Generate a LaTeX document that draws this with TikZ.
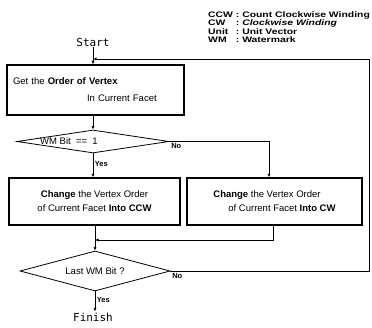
\documentclass[tikz,border=0pt]{standalone}
\usepackage{fontspec}
\setmainfont{Liberation Sans}
\newfontfamily\legendfont[FakeStretch=1.3]{Liberation Sans}
\newfontfamily\termfont{DejaVu Sans Mono}
\usetikzlibrary{arrows.meta,shapes.geometric}

\begin{document}
\begin{tikzpicture}[x=1pt,y=-1pt,>={Latex[length=3.5pt,width=3pt]},
  font=\fontsize{9.5}{11}\selectfont,
  stepbox/.style={draw,line width=1.2pt,inner sep=0pt},
  test/.style={draw,diamond,line width=0.8pt,inner sep=0pt},
  flow/.style={->,line width=0.7pt},
  term/.style={font=\termfont\fontsize{11}{12}\selectfont,inner sep=1pt},
  answer/.style={font=\fontsize{7.5}{8}\selectfont\bfseries,inner sep=1.5pt}]
\useasboundingbox (0,0) rectangle (372,327);
\node[anchor=north west,inner sep=0pt,font=\legendfont\fontsize{8}{8.5}\selectfont\bfseries] (legend) at (208,11)
  {\begin{tabular}{@{}l@{\ :\ }l@{}}
   CCW & Count Clockwise Winding\\
   CW & \itshape Clockwise Winding\\
   Unit & Unit Vector\\
   WM & Watermark
   \end{tabular}};
\node[term] (start) at (93,42) {Start};
\coordinate (loop) at (93,59);
\node[stepbox,minimum width=177pt,minimum height=50pt,text width=165pt,align=left,
  font=\fontsize{9.5}{17}\selectfont] (get) at (95.5,90)
  {Get the \textbf{Order of Vertex}\\\hspace*{74pt}In Current Facet};
\node[test,minimum width=152pt,minimum height=23pt] (wm) at (93,141.5) {};
\node[inner sep=0pt] (wmtext) at (69,141.5) {WM Bit \ ==\ \ 1};
\node[stepbox,minimum width=171pt,minimum height=47pt,align=center,
  font=\fontsize{9.5}{14}\selectfont] (ccw) at (94.5,201.5)
  {\textbf{Change} the Vertex Order\\of Current Facet \textbf{Into CCW}};
\node[stepbox,minimum width=175pt,minimum height=47pt,align=left,
  font=\fontsize{9.5}{14}\selectfont] (cw) at (274.5,201.5)
  {\textbf{Change} the Vertex Order\\\hspace*{15pt}of Current Facet \textbf{Into CW}};
\coordinate (join) at (95,240);
\node[test,minimum width=150pt,minimum height=40pt] (last) at (95,271) {};
\node[inner sep=0pt] (lasttext) at (last) {Last WM Bit ?};
\node[term] (finish) at (93,317) {Finish};
\coordinate (ret) at (369,59);

\draw[flow] (start.south) -- (start.south |- get.north);
\draw[flow] (get.south -| wm.north) -- (wm.north);
\draw[flow] (wm.south) -- (wm.south |- ccw.north)
  node[answer,anchor=west,pos=0.45] (yes1) {Yes};
\draw[flow] (wm.east) node[answer,below right] (no1) {No} -| ([xshift=-5.5pt]cw.north);
\draw[flow] (ccw.south -| last.north) -- (last.north);
\draw[flow] ([xshift=-1.5pt]cw.south) |- (join);
\draw[flow] (last.south) -- (last.south |- finish.north)
  node[answer,anchor=west,pos=0.4] (yes2) {Yes};
\draw[flow] (last.east) node[answer,below right] (no2) {No} -| (ret) -- (loop);
\end{tikzpicture}
\end{document}
